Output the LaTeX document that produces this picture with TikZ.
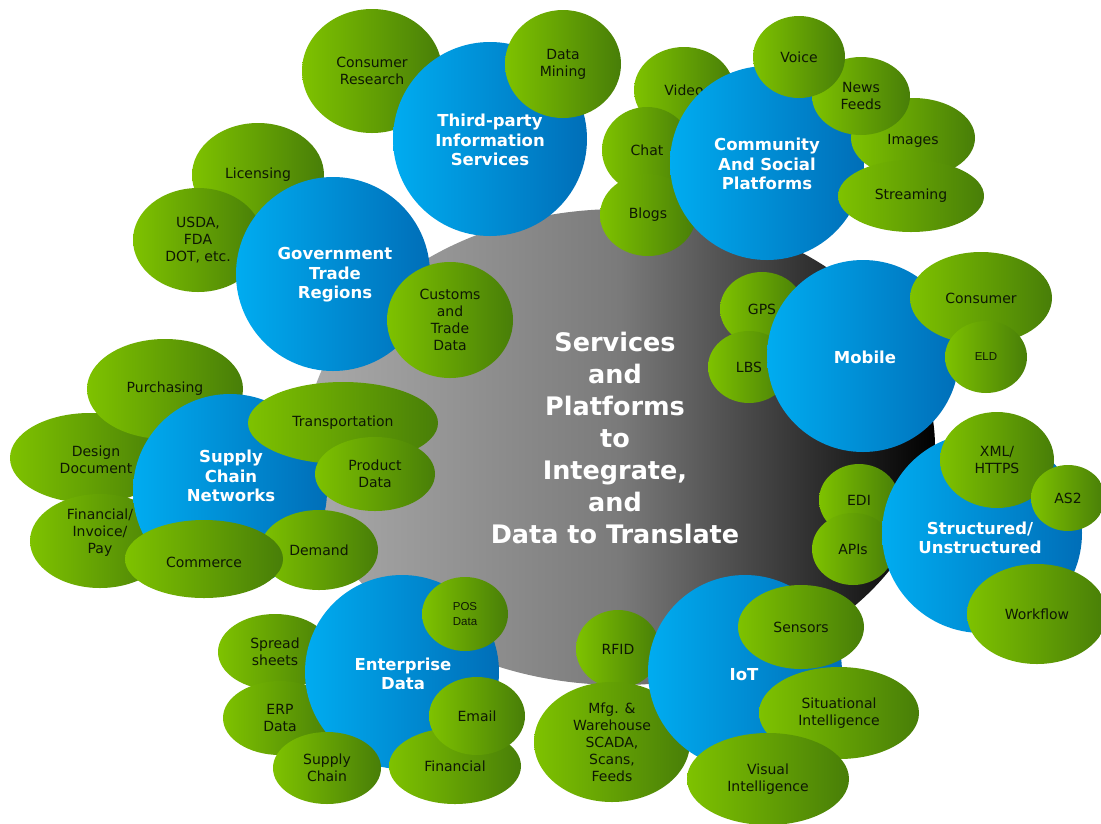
\documentclass[tikz,border=0pt]{standalone}
\usepackage{fontspec}
\setmainfont{DejaVu Sans}
\newfontfamily\narrowfont{Liberation Sans}
\usetikzlibrary{shapes.geometric}

\definecolor{greenL}{RGB}{126,194,0}
\definecolor{greenR}{RGB}{72,126,8}
\definecolor{blueL}{RGB}{0,172,240}
\definecolor{blueR}{RGB}{0,110,184}
\definecolor{grayL}{RGB}{170,170,170}
\definecolor{grayM}{RGB}{122,122,122}
\definecolor{inkgreen}{RGB}{14,24,4}

\tikzset{
  gball/.style 2 args={ellipse, minimum width={2*#1}, minimum height={2*#2},
    inner sep=0pt, left color=greenL, right color=greenR, text=inkgreen,
    align=center, font=\fontsize{14}{17}\selectfont},
  bball/.style 2 args={ellipse, minimum width={2*#1}, minimum height={2*#2},
    inner sep=0pt, left color=blueL, right color=blueR},
  btext/.style={text=white, align=center, inner sep=0pt,
    font=\bfseries\fontsize{16.5}{19.5}\selectfont},
  gtext/.style={text=inkgreen, align=center, inner sep=0pt,
    font=\fontsize{14}{17}\selectfont},
  small/.style={font=\narrowfont\fontsize{11.5}{15}\selectfont}
}

\begin{document}
\begin{tikzpicture}[x=1pt, y=-1pt]
\useasboundingbox[fill=white] (0,0) rectangle (1101,823);

% central platform
\node[ellipse, minimum width=630, minimum height=476, inner sep=0pt,
      left color=grayL, right color=black, middle color=grayM] (core) at (620,447) {};

% satellites sitting behind their hubs
\node[gball={70}{62}] (research) at (372,71) {Consumer\\Research};
\node[gball={66}{52}] (licensing) at (258,175) {Licensing};
\node[gball={65}{52}] (usda) at (198,240) {USDA,\\FDA\\DOT, etc.};
\node[gball={50}{43}] (video) at (684,90) {Video};
\node[gball={45}{43}] (chat) at (647,150) {Chat};
\node[gball={48}{41}] (blogs) at (648,215) {Blogs};
\node[gball={42}{37}] (gps) at (762,309) {GPS};
\node[gball={41}{36}] (lbs) at (749,367) {LBS};
\node[gball={80}{45}] (design) at (90,458) {};
\node[gtext] (design-t) at (96,460) {Design\\Document};
\node[gball={70}{47}] (invoice) at (100,541) {};
\node[gtext] (invoice-t) at (100,533) {Financial/\\Invoice/\\Pay};
\node[gball={78}{50}] (purchasing) at (165,389) {Purchasing};
\node[gball={57}{38}] (spread) at (275,652) {Spread\\sheets};
\node[gball={57}{37}] (erp) at (280,718) {ERP\\Data};
\node[gball={42}{39}] (rfid) at (618,649) {RFID};
\node[gball={78}{60}] (mfg) at (612,742) {Mfg. \&\\Warehouse\\SCADA,\\Scans,\\Feeds};
\node[gball={40}{36}] (edi) at (859,500) {EDI};
\node[gball={41}{36}] (apis) at (853,549) {APIs};

% hubs
\node[bball={97}{97}] (third) at (490,139) {};
\node[btext] (third-t) at (490,140) {Third-party\\Information\\Services};
\node[bball={97}{97}] (gov) at (333,274) {};
\node[btext] (gov-t) at (335,275) {Government\\Trade\\Regions};
\node[bball={97}{97}] (comm) at (767,163) {};
\node[btext] (comm-t) at (767,164) {Community\\And Social\\Platforms};
\node[bball={96}{96}] (mobile) at (863,356) {};
\node[btext] (mobile-t) at (865,357) {Mobile};
\node[bball={97}{97}] (supply) at (230,491) {};
\node[btext] (supply-t) at (231,476) {Supply\\Chain\\Networks};
\node[bball={97}{97}] (enterprise) at (402,672) {};
\node[btext] (enterprise-t) at (403,674) {Enterprise\\Data};
\node[bball={97}{97}] (iot) at (745,672) {};
\node[btext] (iot-t) at (744,675) {IoT};
\node[bball={100}{100}] (structured) at (982,533) {};
\node[btext] (structured-t) at (980,538) {Structured/\\Unstructured};

% satellites in front of their hubs
\node[gball={58}{54}] (mining) at (563,64) {Data\\Mining};
\node[gball={63}{58}] (customs) at (450,320) {Customs\\and\\Trade\\Data};
\node[gball={62}{40}] (images) at (913,138) {};
\node[gtext] (images-t) at (913,141) {Images};
\node[gball={73}{36}] (streaming) at (911,196) {Streaming};
\node[gball={49}{39}] (news) at (861,96) {News\\Feeds};
\node[gball={46}{41}] (voice) at (799,57) {Voice};
\node[gball={71}{46}] (consumer) at (981,298) {Consumer};
\node[gball={41}{36}, small] (eld) at (986,357) {ELD};
\node[gball={95}{41}] (transport) at (343,423) {Transportation};
\node[gball={60}{37}] (product) at (375,474) {Product\\Data};
\node[gball={59}{40}] (demand) at (319,550) {Demand};
\node[gball={79}{39}] (commerce) at (204,559) {};
\node[gtext] (commerce-t) at (204,562) {Commerce};
\node[gball={54}{36}] (supplysmall) at (327,768) {Supply\\Chain};
\node[gball={43}{37}, small] (pos) at (465,614) {POS\\Data};
\node[gball={66}{38}] (financial) at (455,766) {Financial};
\node[gball={48}{39}] (email) at (477,716) {Email};
\node[gball={63}{42}] (sensors) at (801,627) {Sensors};
\node[gball={80}{46}] (situational) at (839,713) {Situational\\Intelligence};
\node[gball={81}{46}] (visual) at (768,779) {Visual\\Intelligence};
\node[gball={57}{48}] (xml) at (997,460) {XML/\\HTTPS};
\node[gball={37}{33}] (as2) at (1068,498) {AS2};
\node[gball={70}{50}] (workflow) at (1037,614) {Workflow};

% headline on the platform
\node[text=white, align=center, inner sep=0pt,
      font=\bfseries\fontsize{25.5}{32}\selectfont] (title) at (615,438)
  {Services\\and\\Platforms\\to\\Integrate,\\and\\Data to Translate};
\end{tikzpicture}
\end{document}
